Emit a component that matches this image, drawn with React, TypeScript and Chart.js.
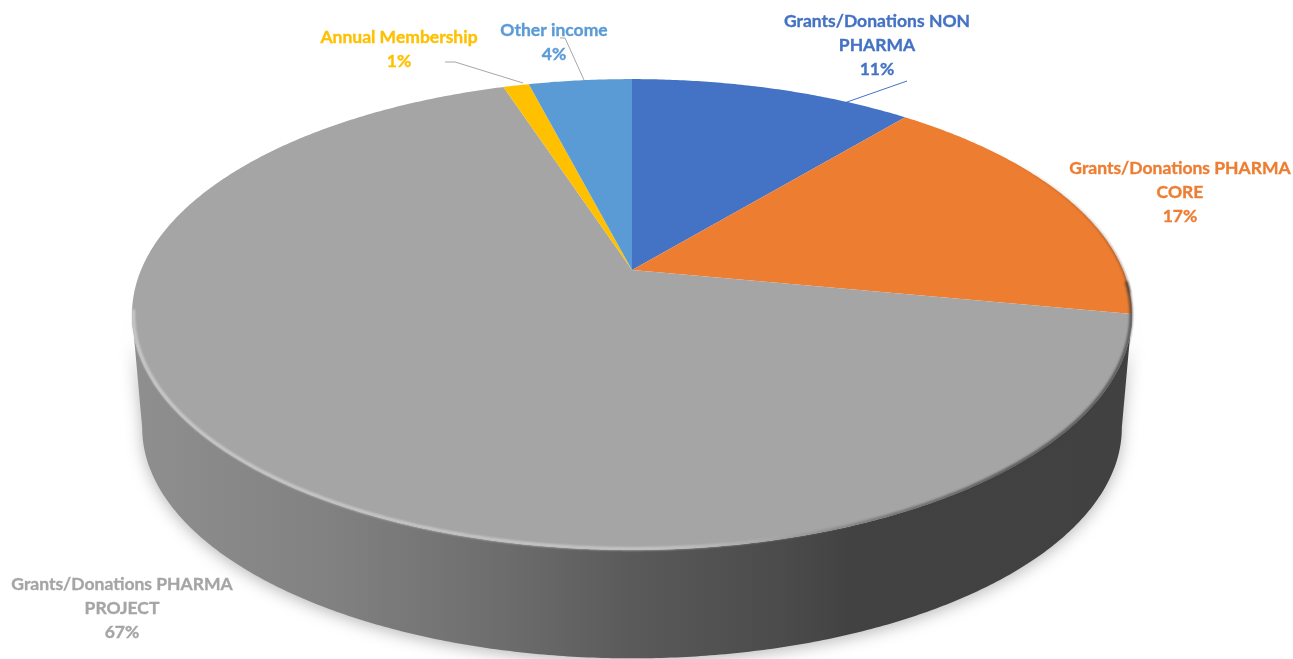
import React, { useEffect, useRef } from "react";
import { Chart, registerables } from "chart.js";

Chart.register(...registerables);

// Income shares, in percent, listed clockwise from twelve o'clock.
const categories = [
  "Grants/Donations NON PHARMA",
  "Grants/Donations PHARMA CORE",
  "Grants/Donations PHARMA PROJECT",
  "Annual Membership",
  "Other income",
];
const shares = [11, 17, 67, 1, 4];
const sliceColors = ["#4472C4", "#ED7D31", "#A5A5A5", "#FFC000", "#5B9BD5"];

// Wrapped label text and anchor for each slice.
const labelLines = [
  ["Grants/Donations NON", "PHARMA"],
  ["Grants/Donations PHARMA", "CORE"],
  ["Grants/Donations PHARMA", "PROJECT"],
  ["Annual Membership"],
  ["Other income"],
];
const labelAnchors = [
  { x: 877, y: 21 },
  { x: 1180, y: 168 },
  { x: 122, y: 584 },
  { x: 399, y: 37 },
  { x: 554, y: 30 },
];
const leaders = [
  { color: "#4472C4", points: [[907, 81], [847, 102]] },
  { color: "#A6A6A6", points: [[445, 62], [455, 62], [523, 83]] },
  { color: "#A6A6A6", points: [[560, 38], [565, 38], [584, 80]] },
];

const LINE_HEIGHT = 24;
const LABEL_FONT = "bold 17.5px Lato";

// Tilted disc: the circle is seen through a perspective divide, so the hub
// sits above the centre of the projected ellipse.
const TILT = 0.189;
const topFace = { cx: 632, cy: 270, rx: 491, ry: 227 };
const baseFace = { cx: 632, cy: 384, rx: 481, ry: 222.5 };

type Face = typeof topFace;

function project(face: Face, angle: number): [number, number] {
  const u = Math.cos(angle);
  const v = -Math.sin(angle);
  const w = 1 + TILT * v;
  return [face.cx + (face.rx * u) / w, face.cy - (face.ry * v) / w];
}

function traceArc(ctx: CanvasRenderingContext2D, face: Face, from: number, to: number, move: boolean) {
  const steps = Math.max(2, Math.ceil(Math.abs(to - from) * 120));
  for (let i = 0; i <= steps; i++) {
    const [x, y] = project(face, from + ((to - from) * i) / steps);
    if (i === 0 && move) ctx.moveTo(x, y);
    else ctx.lineTo(x, y);
  }
}

const edgeAngle = Math.asin(TILT);

function drawWall(ctx: CanvasRenderingContext2D) {
  const gradient = ctx.createLinearGradient(132, 0, 1132, 0);
  gradient.addColorStop(0, "#8f8f8f");
  gradient.addColorStop(0.2, "#818181");
  gradient.addColorStop(0.37, "#6d6d6d");
  gradient.addColorStop(0.5, "#5a5a5a");
  gradient.addColorStop(0.65, "#4b4b4b");
  gradient.addColorStop(0.72, "#424242");
  gradient.addColorStop(1, "#414141");
  ctx.save();
  ctx.shadowColor = "rgba(0,0,0,0.28)";
  ctx.shadowBlur = 16;
  ctx.shadowOffsetY = 3;
  ctx.beginPath();
  traceArc(ctx, topFace, edgeAngle, Math.PI - edgeAngle, true);
  traceArc(ctx, baseFace, Math.PI - edgeAngle, edgeAngle, false);
  ctx.closePath();
  ctx.fillStyle = gradient;
  ctx.fill();
  ctx.restore();
}

function drawRimShading(ctx: CanvasRenderingContext2D) {
  ctx.save();
  ctx.filter = "blur(1px)";

  // Soft dark edge where the rim turns away on the right.
  const dark = ctx.createLinearGradient(680, 0, 1000, 0);
  dark.addColorStop(0, "rgba(65,65,65,0)");
  dark.addColorStop(1, "rgba(65,65,65,0.8)");
  ctx.lineWidth = 3;
  ctx.strokeStyle = dark;
  ctx.beginPath();
  traceArc(ctx, { ...topFace, rx: topFace.rx - 1, ry: topFace.ry - 0.5 }, 0.05, Math.PI / 2, true);
  ctx.stroke();

  // Thin brown shade on the back-right part of the rim, fading upwards.
  const back = ctx.createLinearGradient(0, 150, 0, 320);
  back.addColorStop(0, "rgba(70,40,20,0)");
  back.addColorStop(1, "rgba(70,40,20,0.8)");
  ctx.lineWidth = 1.6;
  ctx.strokeStyle = back;
  ctx.beginPath();
  traceArc(ctx, topFace, -0.75, 0.1, true);
  ctx.stroke();

  // Bevel highlight along the front-left of the rim.
  const light = ctx.createLinearGradient(132, 0, 880, 0);
  light.addColorStop(0, "rgba(208,208,208,0.9)");
  light.addColorStop(0.7, "rgba(205,205,205,0.85)");
  light.addColorStop(1, "rgba(205,205,205,0)");
  ctx.lineWidth = 3;
  ctx.strokeStyle = light;
  ctx.beginPath();
  traceArc(ctx, { ...topFace, rx: topFace.rx - 1.5, ry: topFace.ry - 1 }, 1.15, Math.PI - edgeAngle + 0.02, true);
  ctx.stroke();
  ctx.restore();
}

function drawLabels(ctx: CanvasRenderingContext2D) {
  ctx.save();
  leaders.forEach(({ color, points }) => {
    ctx.beginPath();
    points.forEach(([x, y], i) => (i === 0 ? ctx.moveTo(x, y) : ctx.lineTo(x, y)));
    ctx.strokeStyle = color;
    ctx.lineWidth = 1;
    ctx.stroke();
  });
  ctx.font = LABEL_FONT;
  ctx.textAlign = "center";
  ctx.textBaseline = "middle";
  ctx.lineWidth = 0.35;
  categories.forEach((_, i) => {
    const lines = [...labelLines[i], `${shares[i]}%`];
    ctx.fillStyle = sliceColors[i];
    ctx.strokeStyle = sliceColors[i];
    lines.forEach((line, n) => {
      const y = labelAnchors[i].y + n * LINE_HEIGHT;
      ctx.fillText(line, labelAnchors[i].x, y);
      ctx.strokeText(line, labelAnchors[i].x, y);
    });
  });
  ctx.restore();
}

// Replaces the flat arc drawing: each slice keeps the angles Chart.js computed
// from the data and is drawn on the tilted disc instead.
const tiltedPie = {
  id: "tiltedPie",
  beforeDatasetDraw(chart: Chart) {
    const ctx = chart.ctx;
    const arcs = chart.getDatasetMeta(0).data as any[];
    drawWall(ctx);
    arcs.forEach((arc, i) => {
      const { startAngle, endAngle } = arc.getProps(["startAngle", "endAngle"], true);
      ctx.beginPath();
      ctx.moveTo(topFace.cx, topFace.cy);
      traceArc(ctx, topFace, startAngle, endAngle, false);
      ctx.closePath();
      ctx.fillStyle = sliceColors[i];
      ctx.fill();
    });
    drawRimShading(ctx);
    drawLabels(ctx);
    return false;
  },
};

export default function App() {
  const canvasRef = useRef<HTMLCanvasElement>(null);

  useEffect(() => {
    const chart = new Chart(canvasRef.current!, {
      type: "pie",
      data: {
        labels: categories,
        datasets: [{ data: shares, backgroundColor: sliceColors, borderWidth: 0 }],
      },
      options: {
        animation: false,
        responsive: false,
        plugins: { legend: { display: false }, tooltip: { enabled: false } },
      },
      plugins: [tiltedPie as any],
    });
    return () => chart.destroy();
  }, []);

  return (
    <div style={{ position: "absolute", left: 0, top: 0, width: 1293, height: 659, background: "#fff", overflow: "hidden" }}>
      <canvas ref={canvasRef} width={1293} height={659} style={{ display: "block" }} />
    </div>
  );
}
